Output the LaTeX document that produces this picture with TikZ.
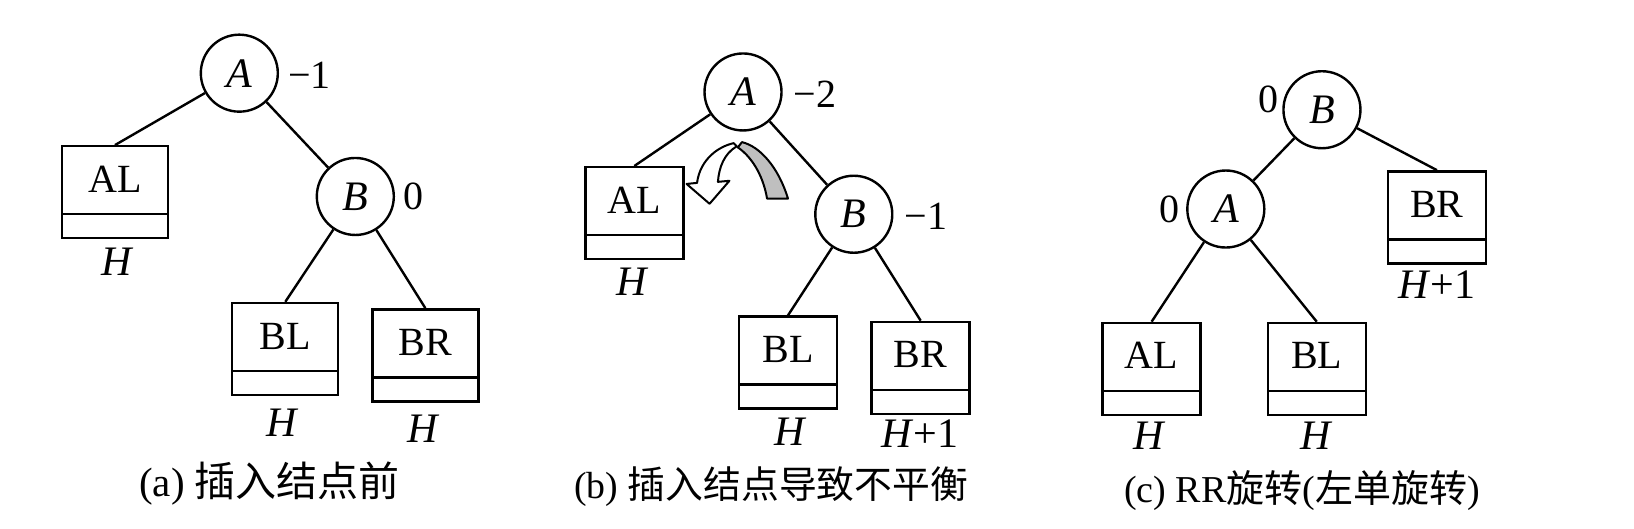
\documentclass[tikz,border=0pt]{standalone}
\usepackage{fontspec}
\setmainfont{Liberation Serif}
\newfontfamily\cjk{Noto Sans CJK SC}
\begin{document}
\begin{tikzpicture}[x=0.5225pt,y=-0.5225pt,line width=1.2pt,
  every node/.style={font=\fontsize{20}{22}\selectfont},
  knot/.style={draw,line width=1.2pt,circle,minimum size=38.5pt,inner sep=0pt,font=\fontsize{21}{22}\selectfont\itshape},
  tbox/.style={draw,line width=1.2pt,rectangle,minimum width=49pt,minimum height=46pt,inner sep=0pt,
     text height=10pt,text depth=10pt,
     path picture={\draw[line width=1.2pt] ([yshift=12pt]path picture bounding box.south west) -- ([yshift=12pt]path picture bounding box.south east);}},
  wbox/.style={tbox,minimum width=53pt},
  bf/.style={inner sep=1pt,font=\fontsize{20}{22}\selectfont},
  hgt/.style={inner sep=1pt,font=\fontsize{21}{22}\selectfont},
  captxt/.style={inner sep=1pt,font=\fontsize{20.5}{24}\selectfont},
  link/.style={draw,line width=1.2pt}]
\useasboundingbox[fill=white] (0,0) rectangle (1563.6,505.3);
% ---------- (a)
\node[knot] (aA) at (229,70) {A};
\node[bf] (aAf) at (296,72) {−1};
\node[wbox] (aAL) at (110,184) {AL};
\node[hgt] (aH1) at (113,250) {\textit{H}};
\node[knot] (aB) at (340,188) {B};
\node[bf] (aBf) at (396,188) {0};
\node[wbox] (aBL) at (273,334) {BL};
\node[wbox] (aBR) at (407,340) {BR};
\node[hgt] (aH2) at (270,405) {\textit{H}};
\node[hgt] (aH3) at (405,410) {\textit{H}};
\node[captxt] (acap) at (258,463) {(a) {\cjk 插入结点前}};
\path[link] (aA) -- (aAL.north);
\path[link] (aA) -- (aB);
\path[link] (aB) -- (aBL.north);
\path[link] (aB) -- (aBR.north);
% ---------- (b)
\node[knot] (bA) at (711,88) {A};
\node[bf] (bAf) at (780,90) {−2};
\node[tbox] (bAL) at (607,204) {AL};
\node[hgt] (bH1) at (605,270) {\textit{H}};
\node[knot] (bB) at (817,205) {B};
\node[bf] (bBf) at (886,207) {−1};
\node[tbox] (bBL) at (754,347) {BL};
\node[tbox] (bBR) at (881,352) {BR};
\node[hgt] (bH2) at (757,413) {\textit{H}};
\node[hgt] (bH3) at (880,415) {\textit{H}+1};
\node[captxt,font=\fontsize{18.9}{24}\selectfont] (bcap) at (738,466) {(b) {\cjk 插入结点导致不平衡}};
\path[link] (bA) -- (bAL.north);
\path[link] (bA) -- (bB);
\path[link] (bB) -- (bBL.north);
\path[link] (bB) -- (bBR.north);
% rotation arrow (ribbon): grey back part and white front part
\draw[line width=1pt,fill=black!25,line join=round]
   (710,136) .. controls (727,140) and (745,160) .. (754,190)
   -- (734,190) .. controls (731,172) and (722,152) .. (706,141) -- cycle;
\draw[line width=1pt,fill=white,line join=round]
   (702,137) .. controls (688,140) and (670,152) .. (667,175)
   -- (657,176) -- (679,195) -- (698,173) -- (687,174)
   .. controls (688,160) and (693,147) .. (705,140) -- cycle;
% ---------- (c)
\node[knot] (cB) at (1265,105) {B};
\node[bf] (cBf) at (1214,95) {0};
\node[knot] (cA) at (1173,200) {A};
\node[bf] (cAf) at (1119,200) {0};
\node[tbox] (cBR) at (1375,208) {BR};
\node[hgt] (cH1) at (1375,272) {\textit{H}+1};
\node[tbox] (cAL) at (1102,353) {AL};
\node[tbox] (cBL) at (1260,353) {BL};
\node[hgt] (cH2) at (1100,417) {\textit{H}};
\node[hgt] (cH3) at (1260,417) {\textit{H}};
\node[captxt,font=\fontsize{19}{24}\selectfont] (ccap) at (1246,469) {(c) RR{\cjk 旋转}({\cjk 左单旋转})};
\path[link] (cB) -- (cA);
\path[link] (cB) -- (cBR.north);
\path[link] (cA) -- (cAL.north);
\path[link] (cA) -- (cBL.north);
\end{tikzpicture}
\end{document}
